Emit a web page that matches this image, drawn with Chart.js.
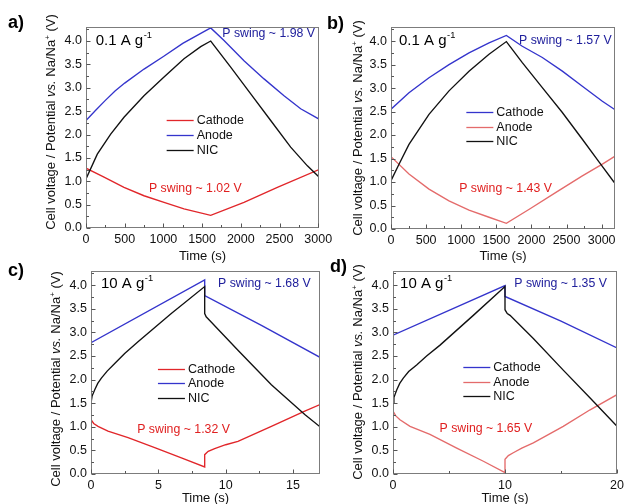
<!DOCTYPE html>
<html><head><meta charset="utf-8">
<script src="https://cdn.jsdelivr.net/npm/chart.js@4/dist/chart.umd.min.js"></script>
<style>
body{margin:0;background:#fff;width:625px;height:504px;position:relative;overflow:hidden;font-family:"Liberation Sans",Arial,sans-serif;}
canvas{position:absolute;}
.lab{position:absolute;font-weight:bold;font-size:18px;line-height:18px;color:#000;}
.yt{position:absolute;white-space:nowrap;font-size:13px;line-height:13px;color:#111;transform:translate(-50%,-50%) rotate(-90deg);}
.yt sup{font-size:8px;vertical-align:5px;line-height:0;}
</style></head><body>
<canvas id="ca" width="340" height="264" style="left:0;top:0"></canvas>
<canvas id="cb" width="303" height="264" style="left:322px;top:0"></canvas>
<canvas id="cc" width="340" height="242" style="left:0;top:262px"></canvas>
<canvas id="cd" width="303" height="242" style="left:322px;top:262px"></canvas>
<div class="lab" style="left:8px;top:13px">a)</div>
<div class="lab" style="left:327px;top:14px">b)</div>
<div class="lab" style="left:8px;top:261px">c)</div>
<div class="lab" style="left:330px;top:257px">d)</div>
<div class="yt" style="left:50px;top:122px">Cell voltage / Potential <i>vs.</i> Na/Na<sup>+</sup> (V)</div>
<div class="yt" style="left:357px;top:128px">Cell voltage / Potential <i>vs.</i> Na/Na<sup>+</sup> (V)</div>
<div class="yt" style="left:55px;top:379px">Cell voltage / Potential <i>vs.</i> Na/Na<sup>+</sup> (V)</div>
<div class="yt" style="left:357px;top:372px">Cell voltage / Potential <i>vs.</i> Na/Na<sup>+</sup> (V)</div>
<script>
// ---------- DATA ----------
// Panel a (0.1 A/g)
const aCathodeT = [0, 233, 491, 749, 1008, 1266, 1611, 2041, 2472, 3010];
const aCathodeV = [1.28, 1.09, 0.87, 0.69, 0.55, 0.41, 0.27, 0.55, 0.87, 1.25];
const aAnodeT = [0, 125, 250, 375, 500, 750, 1000, 1250, 1500, 1611, 1783, 2041, 2300, 2558, 2773, 3010];
const aAnodeV = [2.30, 2.52, 2.73, 2.93, 3.10, 3.40, 3.67, 3.95, 4.18, 4.28, 4.01, 3.58, 3.19, 2.83, 2.55, 2.33];
const aNicT = [0, 146, 319, 491, 749, 1008, 1266, 1482, 1611, 1869, 2128, 2386, 2644, 2860, 3010];
const aNicV = [1.05, 1.58, 2.01, 2.37, 2.83, 3.23, 3.62, 3.88, 4.00, 3.44, 2.87, 2.30, 1.73, 1.33, 1.09];
// Panel b (0.1 A/g)
const bCathodeT = [0, 256, 541, 826, 1111, 1396, 1643, 1870, 2155, 2440, 2725, 3010, 3180];
const bCathodeV = [2.55, 2.90, 3.22, 3.50, 3.75, 3.96, 4.12, 3.89, 3.65, 3.36, 3.04, 2.72, 2.55];
const bAnodeT = [0, 256, 541, 826, 1111, 1396, 1643, 1969, 2349, 2725, 3010, 3180];
const bAnodeV = [1.54, 1.17, 0.85, 0.60, 0.40, 0.25, 0.12, 0.42, 0.78, 1.13, 1.38, 1.54];
const bNicT = [0, 114, 256, 541, 826, 1111, 1396, 1643, 1870, 2155, 2440, 2725, 2967, 3180];
const bNicV = [1.03, 1.38, 1.80, 2.44, 2.94, 3.36, 3.72, 3.99, 3.54, 3.01, 2.48, 1.91, 1.42, 0.99];
// Panel c (10 A/g)
const cCathodeT = [0, 0, 0.2, 0.52, 1.26, 2.75, 4.73, 6.71, 8.44, 8.44, 8.7, 9.18, 10.0, 10.91, 13.39, 15.87, 17];
const cCathodeV = [1.45, 1.15, 1.07, 1.01, 0.91, 0.77, 0.56, 0.34, 0.15, 0.41, 0.48, 0.54, 0.62, 0.69, 1.01, 1.33, 1.47];
const cAnodeT = [0, 0, 8.44, 8.44, 12.65, 17];
const cAnodeV = [2.48, 2.78, 4.11, 3.78, 3.15, 2.47];
const cNicT = [0, 0.08, 0.27, 0.5, 0.77, 1.2, 1.76, 2.5, 3.49, 5.96, 8.44, 8.44, 8.55, 8.69, 10.91, 13.39, 15.87, 17];
const cNicV = [1.50, 1.65, 1.78, 1.92, 2.03, 2.18, 2.34, 2.55, 2.80, 3.40, 3.97, 3.40, 3.33, 3.29, 2.62, 1.89, 1.26, 1.00];
// Panel d (10 A/g)
const dCathodeT = [0, 0, 10, 10, 15, 20];
const dCathodeV = [2.69, 2.94, 3.99, 3.76, 3.24, 2.67];
const dAnodeT = [0, 0, 0.25, 0.62, 1.52, 3.3, 5.69, 8.07, 10, 10, 10.3, 10.74, 11.5, 12.53, 15.2, 17.6, 20];
const dAnodeV = [1.45, 1.33, 1.23, 1.15, 1.01, 0.84, 0.55, 0.27, 0.03, 0.31, 0.39, 0.45, 0.55, 0.66, 1.01, 1.36, 1.68];
const dNicT = [0, 0.08, 0.33, 0.6, 0.92, 1.4, 2.11, 3.0, 4.2, 7.17, 10, 10, 10.2, 10.45, 12.53, 15.2, 17.6, 20];
const dNicV = [1.50, 1.62, 1.78, 1.92, 2.03, 2.17, 2.31, 2.50, 2.73, 3.36, 3.97, 3.48, 3.40, 3.36, 2.87, 2.20, 1.61, 1.01];
// Tick labels
const yTicks = [0, 0.5, 1, 1.5, 2, 2.5, 3, 3.5, 4];
const yMinor = [0.25, 0.75, 1.25, 1.75, 2.25, 2.75, 3.25, 3.75, 4.25];
const xTicksAB = [0, 500, 1000, 1500, 2000, 2500, 3000];
const xMinorAB = [250, 750, 1250, 1750, 2250, 2750];
const xTicksC = [0, 5, 10, 15];
const xMinorC = [2.5, 7.5, 12.5];
const xTicksD = [0, 10, 20];
const xMinorD = [5, 15];
// ---------- STYLE ----------
const FONT = '"Liberation Sans", Arial, sans-serif';
Chart.defaults.font.family = FONT;
const RED = '#e1262a', LRED = '#e46b6b', BLUE = '#3434cc', BLACK = '#111111';
const TXT_BLUE = '#20209c', TXT_RED = '#e02020';

const decor = {
  id: 'decor',
  afterDraw(chart, args, o) {
    const ctx = chart.ctx, ca = chart.chartArea, xs = chart.scales.x, ys = chart.scales.y;
    ctx.save();
    ctx.strokeStyle = '#7c7c7c'; ctx.lineWidth = 1;
    const L = Math.round(ca.left) + 0.5, R = Math.round(ca.right) - 0.5, T = Math.round(ca.top) + 0.5, B = Math.round(ca.bottom) - 0.5;
    ctx.strokeRect(L, T, R - L, B - T);
    ctx.strokeStyle = '#555'; ctx.beginPath();
    o.xMajor.forEach(v => { const p = Math.round(xs.getPixelForValue(v)) + 0.5; ctx.moveTo(p, B); ctx.lineTo(p, B - 4); });
    o.xMinor.forEach(v => { const p = Math.round(xs.getPixelForValue(v)) + 0.5; ctx.moveTo(p, B); ctx.lineTo(p, B - 2.5); });
    o.yMajor.forEach(v => { const p = Math.round(ys.getPixelForValue(v)) + 0.5; ctx.moveTo(L, p); ctx.lineTo(L + 4, p); });
    o.yMinor.forEach(v => { const p = Math.round(ys.getPixelForValue(v)) + 0.5; ctx.moveTo(L, p); ctx.lineTo(L + 2.5, p); });
    ctx.stroke();
    ctx.fillStyle = '#111'; ctx.font = '13px ' + FONT; ctx.textAlign = 'center'; ctx.textBaseline = 'middle';
    ctx.fillText('Time (s)', (ca.left + ca.right) / 2, o.xTitleY);
    o.texts.forEach(t => {
      const px = xs.getPixelForValue(t.x), py = ys.getPixelForValue(t.y);
      ctx.font = t.size + 'px ' + FONT; ctx.fillStyle = t.color; ctx.textBaseline = 'middle';
      ctx.textAlign = t.align || 'left';
      ctx.fillText(t.text, px, py);
      if (t.sup) {
        const w = ctx.measureText(t.text).width;
        ctx.textAlign = 'left';
        ctx.font = (t.size * 0.62) + 'px ' + FONT;
        ctx.fillText(t.sup, px + w + 0.5, py - t.size * 0.36);
      }
    });
    const lg = o.legend;
    const lx = xs.getPixelForValue(lg.x), ly0 = ys.getPixelForValue(lg.y);
    ctx.font = '12.5px ' + FONT; ctx.textAlign = 'left'; ctx.textBaseline = 'middle';
    lg.items.forEach((it, i) => {
      const y = Math.round(ly0 + i * lg.dy) + 0.5;
      ctx.strokeStyle = it.color; ctx.lineWidth = 1.3;
      ctx.beginPath(); ctx.moveTo(lx, y); ctx.lineTo(lx + 27, y); ctx.stroke();
      ctx.fillStyle = '#111'; ctx.fillText(it.label, lx + 30, y);
    });
    ctx.restore();
  }
};

function ds(label, t, v, color) {
  return { label, data: t.map((x, i) => ({ x, y: v[i] })), borderColor: color, borderWidth: 1.35,
           pointRadius: 0, tension: 0, fill: false };
}

function makeChart(id, c) {
  const cv = document.getElementById(id);
  const W = cv.width, H = cv.height;
  new Chart(cv, {
    type: 'line',
    data: { datasets: c.series },
    options: {
      responsive: false, animation: false, devicePixelRatio: 1,
      layout: { padding: { left: 0, top: c.area.top, right: W - c.area.right, bottom: 0 } },
      plugins: { legend: { display: false }, tooltip: { enabled: false },
        decor: { xMajor: c.xTicks, xMinor: c.xMinor, yMajor: yTicks, yMinor: yMinor,
                 xTitleY: c.xTitleY, texts: c.texts, legend: c.legend } },
      scales: {
        x: { type: 'linear', min: c.xMin, max: c.xMax,
             grid: { display: false, drawTicks: false }, border: { display: false },
             ticks: { font: { size: 12.5 }, color: '#111', padding: 4, maxRotation: 0, autoSkip: false,
                      callback: v => String(v) },
             afterBuildTicks: s => { s.ticks = c.xTicks.map(v => ({ value: v })); },
             afterFit: s => { s.height = H - c.area.bottom; s.paddingLeft = 0; s.paddingRight = 0; } },
        y: { type: 'linear', min: 0, max: 4.3,
             grid: { display: false, drawTicks: false }, border: { display: false },
             ticks: { font: { size: 12.5 }, color: '#111', padding: 4, autoSkip: false,
                      callback: v => Number(v).toFixed(1) },
             afterBuildTicks: s => { s.ticks = yTicks.map(v => ({ value: v })); },
             afterFit: s => { s.width = c.area.left; s.paddingTop = 0; s.paddingBottom = 0; } }
      }
    },
    plugins: [decor]
  });
}

const PS = 12.3;
makeChart('ca', {
  area: { left: 86, top: 27, right: 319, bottom: 228 }, xMin: 0, xMax: 3010,
  xTicks: xTicksAB, xMinor: xMinorAB, xTitleY: 256,
  series: [ds('NIC', aNicT, aNicV, BLACK), ds('Anode', aAnodeT, aAnodeV, BLUE), ds('Cathode', aCathodeT, aCathodeV, RED)],
  texts: [
    { x: 125, y: 4.01, text: '0.1 A g', sup: '-1', size: 15, color: '#000' },
    { x: 1761, y: 4.15, text: 'P swing ~ 1.98 V', size: PS, color: TXT_BLUE },
    { x: 1412, y: 0.835, text: 'P swing ~ 1.02 V', size: PS, color: TXT_RED, align: 'center' }
  ],
  legend: { x: 1042, y: 2.30, dy: 15, items: [{ label: 'Cathode', color: RED }, { label: 'Anode', color: BLUE }, { label: 'NIC', color: BLACK }] }
});

makeChart('cb', {
  area: { left: 69, top: 27, right: 293, bottom: 229 }, xMin: 0, xMax: 3190,
  xTicks: xTicksAB, xMinor: xMinorAB, xTitleY: 256,
  series: [ds('NIC', bNicT, bNicV, BLACK), ds('Cathode', bCathodeT, bCathodeV, BLUE), ds('Anode', bAnodeT, bAnodeV, LRED)],
  texts: [
    { x: 114, y: 4.01, text: '0.1 A g', sup: '-1', size: 15, color: '#000' },
    { x: 1823, y: 4.01, text: 'P swing ~ 1.57 V', size: PS, color: TXT_BLUE },
    { x: 1631, y: 0.86, text: 'P swing ~ 1.43 V', size: PS, color: TXT_RED, align: 'center' }
  ],
  legend: { x: 1073, y: 2.48, dy: 14.2, items: [{ label: 'Cathode', color: BLUE }, { label: 'Anode', color: LRED }, { label: 'NIC', color: BLACK }] }
});

makeChart('cc', {
  area: { left: 91, top: 9, right: 320, bottom: 212 }, xMin: 0, xMax: 17,
  xTicks: xTicksC, xMinor: xMinorC, xTitleY: 236,
  series: [ds('NIC', cNicT, cNicV, BLACK), ds('Anode', cAnodeT, cAnodeV, BLUE), ds('Cathode', cCathodeT, cCathodeV, RED)],
  texts: [
    { x: 0.74, y: 4.03, text: '10 A g', sup: '-1', size: 15, color: '#000' },
    { x: 9.43, y: 4.03, text: 'P swing ~ 1.68 V', size: PS, color: TXT_BLUE },
    { x: 6.87, y: 0.95, text: 'P swing ~ 1.32 V', size: PS, color: TXT_RED, align: 'center' }
  ],
  legend: { x: 4.97, y: 2.23, dy: 14.4, items: [{ label: 'Cathode', color: RED }, { label: 'Anode', color: BLUE }, { label: 'NIC', color: BLACK }] }
});

makeChart('cd', {
  area: { left: 71, top: 9, right: 295, bottom: 212 }, xMin: 0, xMax: 20,
  xTicks: xTicksD, xMinor: xMinorD, xTitleY: 236,
  series: [ds('NIC', dNicT, dNicV, BLACK), ds('Cathode', dCathodeT, dCathodeV, BLUE), ds('Anode', dAnodeT, dAnodeV, LRED)],
  texts: [
    { x: 0.63, y: 4.03, text: '10 A g', sup: '-1', size: 15, color: '#000' },
    { x: 10.83, y: 4.03, text: 'P swing ~ 1.35 V', size: PS, color: TXT_BLUE },
    { x: 8.29, y: 0.97, text: 'P swing ~ 1.65 V', size: PS, color: TXT_RED, align: 'center' }
  ],
  legend: { x: 6.28, y: 2.27, dy: 14.7, items: [{ label: 'Cathode', color: BLUE }, { label: 'Anode', color: LRED }, { label: 'NIC', color: BLACK }] }
});
</script>
</body></html>
